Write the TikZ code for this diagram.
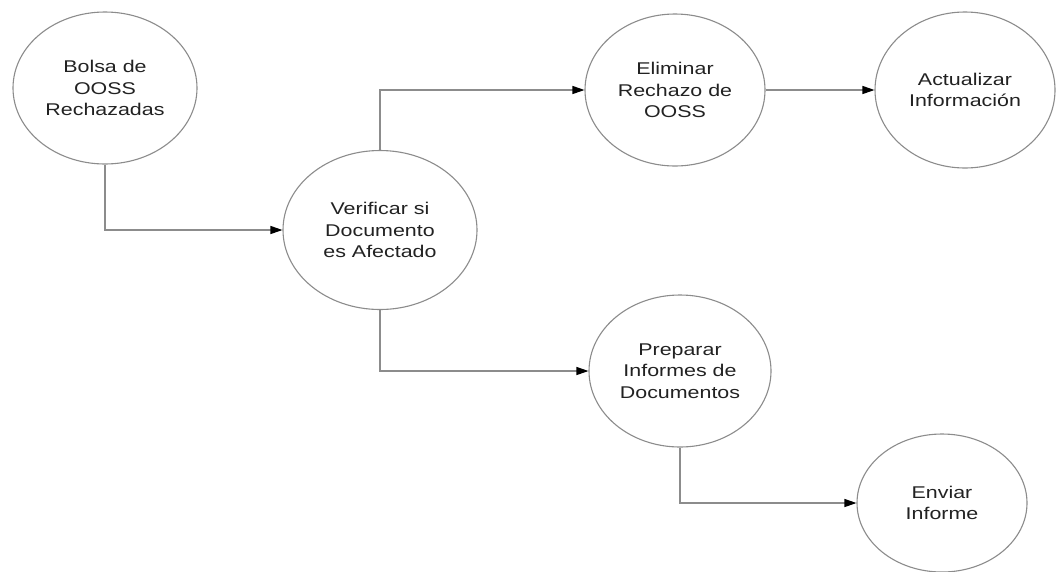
\documentclass[tikz,border=0pt]{standalone}
\usepackage{fontspec}
\newfontfamily\lbl[FakeStretch=1.26]{Liberation Sans}
\usetikzlibrary{shapes.geometric,arrows.meta}
\definecolor{edgegrey}{HTML}{8C8C8C}
\definecolor{textgrey}{HTML}{222222}
\begin{document}
\begin{tikzpicture}[x=1pt,y=-1pt,
  proc/.style={ellipse,draw=edgegrey,line width=1.1pt,inner sep=0pt,
    align=center,text=textgrey,
    font=\lbl\fontsize{17pt}{21.5pt}\selectfont},
  flow/.style={draw=edgegrey,line width=1.1pt,
    -{Triangle[length=12pt,width=8pt,color=black]}}]
\useasboundingbox (0,0) rectangle (1056,571);
\fill[white] (0,0) rectangle (1056,571);

% process bubbles
\node[proc,minimum width=184pt,minimum height=152pt] (bolsa) at (105,88)
  {Bolsa de\\OOSS\\Rechazadas};
\node[proc,minimum width=194pt,minimum height=159pt] (verif) at (380,230)
  {Verificar si\\Documento\\es Afectado};
\node[proc,minimum width=180pt,minimum height=152pt] (elim) at (675,90)
  {Eliminar\\Rechazo de\\OOSS};
\node[proc,minimum width=180pt,minimum height=156pt] (actu) at (965,90)
  {Actualizar\\Información};
\node[proc,minimum width=182pt,minimum height=152pt] (prep) at (680,371)
  {Preparar\\Informes de\\Documentos};
\node[proc,minimum width=170pt,minimum height=138pt] (envi) at (942,503)
  {Enviar\\Informe};

% flows between processes
\draw[flow] (bolsa.south) |- (verif.west);
\draw[flow] (verif.north) |- (elim.west);
\draw[flow] (elim.east) -- (actu.west);
\draw[flow] (verif.south) |- (prep.west);
\draw[flow] (prep.south) |- (envi.west);
\end{tikzpicture}
\end{document}
